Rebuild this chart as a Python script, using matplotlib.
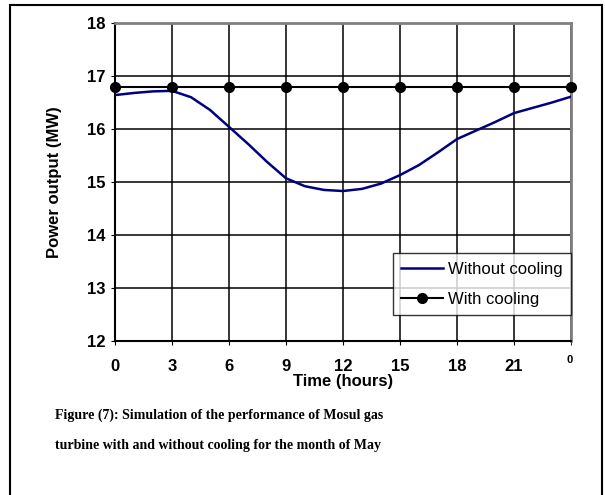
import matplotlib.pyplot as plt
from matplotlib.patches import Rectangle

# hourly readings, month of May
hours = [0, 1, 2, 3, 4, 5, 6, 7, 8, 9, 10, 11, 12,
         13, 14, 15, 16, 17, 18, 19, 20, 21, 22, 23, 24]
without_cooling = [16.64, 16.68, 16.71, 16.72, 16.60, 16.36, 16.04, 15.72, 15.38,
                   15.07, 14.92, 14.85, 14.83, 14.87, 14.97, 15.13, 15.32, 15.56,
                   15.81, 15.97, 16.13, 16.30, 16.40, 16.50, 16.61]
hours_cool = [0, 3, 6, 9, 12, 15, 18, 21, 24]
with_cooling = [16.79, 16.79, 16.79, 16.79, 16.79, 16.79, 16.79, 16.79, 16.79]

xticks = [0, 3, 6, 9, 12, 15, 18, 21]
yticks = [12, 13, 14, 15, 16, 17, 18]

plt.rcParams['font.family'] = ['Liberation Sans', 'DejaVu Sans']

fig = plt.figure(figsize=(6.05, 4.95), dpi=100)
ax = fig.add_axes([115/605, 1-341/495, (571-115)/605, (341-23)/495])

ax.plot(hours, without_cooling, color='#000080', lw=1.8, label='Without cooling', zorder=3)
ax.plot(hours_cool, with_cooling, color='black', lw=1.5, marker='o', ms=7,
        label='With cooling', zorder=4, clip_on=False)

ax.set_xlim(0, 24)
ax.set_ylim(12, 18)
ax.set_xticks(xticks)
ax.set_yticks(yticks)
ax.set_xticks([24], minor=True)
ax.grid(True, color='black', lw=1.1)
ax.grid(True, which='minor', color='black', lw=1.1)
ax.tick_params(axis='x', length=3, pad=10, labelsize=12)
ax.tick_params(axis='y', length=3, pad=4, labelsize=12)
ax.tick_params(which='minor', length=3)
for lab in ax.get_xticklabels() + ax.get_yticklabels():
    lab.set_fontweight('bold')

for s in ['left', 'bottom']:
    ax.spines[s].set_color('black')
    ax.spines[s].set_linewidth(1.5)
for s in ['top', 'right']:
    ax.spines[s].set_color('#808080')
    ax.spines[s].set_linewidth(2)

fig.text(570/605, 1-360/495, '0', fontsize=8, fontweight='bold', ha='center', va='center')

ax.set_xlabel('Time (hours)', fontsize=12, fontweight='bold', labelpad=0)
ax.set_ylabel('Power output (MW)', fontsize=12, fontweight='bold', labelpad=18)

leg = ax.legend(loc='lower right', bbox_to_anchor=(1.0, 0.082),
                frameon=True, fancybox=False, fontsize=12, handlelength=2.5,
                borderpad=0.5, labelspacing=0.9, handletextpad=0.3, borderaxespad=0)
leg.get_frame().set_edgecolor('black')
leg.get_frame().set_linewidth(1.0)

cap = 'Figure (7): Simulation of the performance of Mosul gas'
cap2 = 'turbine with and without cooling for the month of May'
fig.text(55/605, 1-415/495, cap, family='Liberation Serif', fontweight='bold',
         fontsize=10, va='center')
fig.text(55/605, 1-445/495, cap2, family='Liberation Serif', fontweight='bold',
         fontsize=10, va='center')

fig.add_artist(Rectangle((10/605, -0.05), (602-10)/605, 1-5/495+0.05,
                         transform=fig.transFigure, fill=False, ec='black', lw=1.5))

fig.savefig('out.png', dpi=100)
